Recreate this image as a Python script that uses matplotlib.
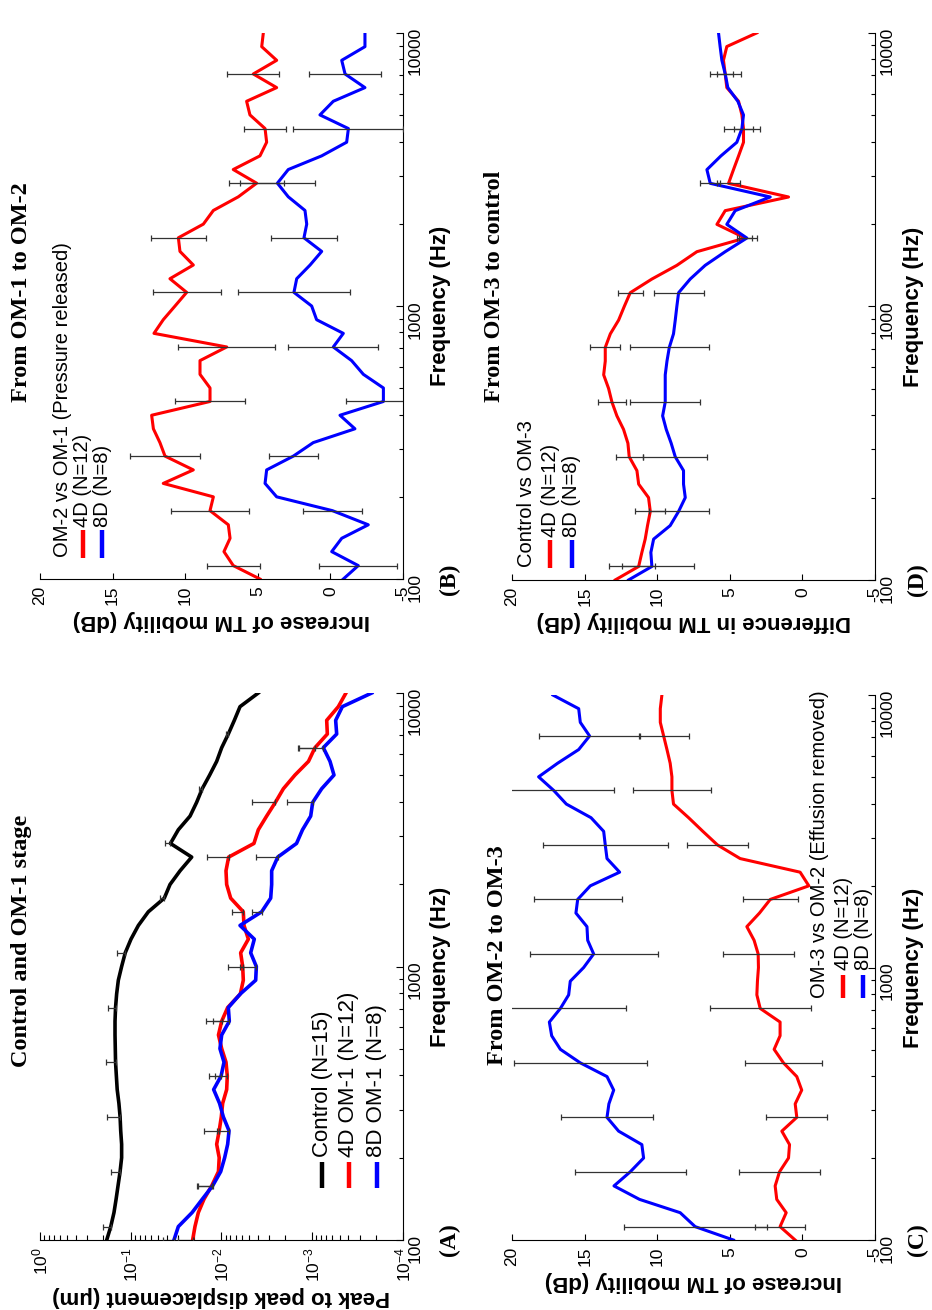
import numpy as np
import matplotlib
matplotlib.use('Agg')
import matplotlib.pyplot as plt
from matplotlib.ticker import LogLocator, NullFormatter

plt.rcParams['font.family'] = ['Liberation Sans', 'DejaVu Sans']
plt.rcParams['mathtext.fontset'] = 'custom'
plt.rcParams['mathtext.rm'] = 'Liberation Sans'
plt.rcParams['mathtext.it'] = 'Liberation Sans:italic'
plt.rcParams['mathtext.bf'] = 'Liberation Sans:bold'
plt.rcParams['axes.unicode_minus'] = False

# 1/20-decade frequency points (Hz)
FREQ = [100, 112, 126, 141, 158, 178, 200, 224, 251, 282, 316, 355, 398, 447, 501,
        562, 631, 708, 794, 891, 1000, 1122, 1259, 1413, 1585, 1778, 1995, 2239, 2512,
        2818, 3162, 3548, 3981, 4467, 5012, 5623, 6310, 7079, 7943, 8913, 10000]

# (A) peak-to-peak displacement, um
ctrl_A = [0.184, 0.166, 0.153, 0.145, 0.138, 0.131, 0.126, 0.126, 0.129, 0.131,
          0.135, 0.141, 0.144, 0.147, 0.148, 0.149, 0.149, 0.147, 0.143, 0.137,
          0.126, 0.115, 0.0994, 0.0824, 0.0640, 0.0427, 0.0369, 0.0286, 0.0213, 0.0365,
          0.0299, 0.0222, 0.0188, 0.0163, 0.0135, 0.0113, 0.00995, 0.00841, 0.00722, 0.00625,
          0.00393]
d4_A = [0.0208, 0.0196, 0.0180, 0.0156, 0.0128, 0.0108, 0.0106, 0.0113, 0.0106, 0.01005,
        0.00971, 0.00877, 0.00863, 0.00892, 0.00995, 0.0108, 0.00995, 0.00855, 0.0062, 0.00575,
        0.00584, 0.00615, 0.00506, 0.00565, 0.00575, 0.00792, 0.00877, 0.00892, 0.00834, 0.00439,
        0.00393, 0.00318, 0.00255, 0.00208, 0.00155, 0.00110, 0.000933, 0.000682, 0.000693, 0.000516,
        0.000425]
d8_A = [0.0334, 0.0299, 0.0211, 0.0163, 0.0125, 0.0102, 0.00923, 0.00855, 0.00826, 0.00954,
        0.0105, 0.0122, 0.0101, 0.00938, 0.0104, 0.00995, 0.00820, 0.00841, 0.0062, 0.00420,
        0.00413, 0.00477, 0.00435, 0.00625, 0.00361, 0.00287, 0.00280, 0.00280, 0.00240, 0.00149,
        0.00128, 0.00104, 0.000989, 0.000787, 0.000576, 0.000637, 0.000755, 0.000538, 0.000552, 0.000466,
        0.000221]
ctrl_err_idx = [1, 5, 9, 13, 17, 21, 25, 29, 33, 37]
ctrl_err = [0.034, 0.035, 0.051, 0.041, 0.031, 0.026, 0.0047, 0.0050, 0.0013, 0.0006]
om1_err_idx = [0, 4, 8, 12, 16, 20, 24, 28, 32, 36]
d4_A_err = [0.0096, 0.0059, 0.0049, 0.0031, 0.0050, 0.0027, 0.0019, 0.0062, 0.0021, 0.00047]
d8_A_err = [0.0108, 0.0058, 0.0029, 0.0036, 0.0041, 0.0022, 0.0010, 0.0018, 0.00092, 0.00067]

# (B) OM-2 vs OM-1, dB
d4_B = [4.85, 6.69, 7.33, 6.91, 7.03, 8.29, 8.06, 11.51, 9.44, 11.39, 11.74, 12.19, 12.31,
        8.29, 8.29, 8.98, 8.98, 7.14, 12.15, 11.51, 10.70, 9.90, 11.05, 9.44, 10.36, 10.47,
        8.75, 8.06, 6.34, 5.08, 6.69, 4.85, 4.39, 4.50, 5.54, 5.77, 3.70, 5.31, 3.70, 4.73, 4.62]
d8_B = [-0.89, -1.92, -0.09, -0.78, -2.61, -0.14, 3.70, 4.50, 4.39, 2.55, 1.18, -1.69, -0.66,
        -3.65, -3.65, -2.27, -1.46, -0.20, -0.89, 0.95, 1.29, 2.51, 2.32, 1.40, 0.60, 1.82,
        1.63, 1.75, 2.90, 3.65, 2.90, 0.60, -1.12, -1.24, 0.72, -0.20, -2.38, -1.01, -0.78, -2.38, -2.38]
d4_B_err = [1.81, 2.66, 2.40, 2.43, 3.33, 2.34, 1.89, 1.88, 1.42, 1.80]
d8_B_err = [2.70, 2.04, 1.69, 2.58, 3.10, 3.85, 2.30, 2.60, 3.79, 2.49]

# (C) OM-3 vs OM-2, dB
d4_C = [0.50, 1.54, 1.12, 1.77, 1.88, 1.58, 0.96, 0.89, 1.42, 0.39, 0.50, 0.05, 0.39, 1.31,
        1.95, 1.54, 1.54, 2.91, 3.14, 3.10, 3.03, 3.05, 3.33, 3.83, 2.96, 2.22, -0.44, 0.16,
        4.29, 5.85, 6.86, 7.84, 8.88, 8.99, 8.99, 9.11, 9.33, 9.56, 9.79, 9.79, 9.68]
d8_C = [4.75, 7.39, 8.42, 11.22, 12.98, 11.86, 10.94, 11.06, 12.66, 13.46, 13.33, 13.00, 13.46,
        15.30, 16.67, 17.27, 17.43, 16.67, 16.10, 15.99, 15.07, 14.38, 14.79, 14.84, 15.60, 15.48,
        14.61, 12.59, 13.46, 13.58, 13.69, 14.56, 16.26, 17.13, 18.17, 16.86, 15.41, 14.66, 15.30,
        15.41, 17.18]
d4_C_err = [1.72, 2.80, 2.11, 2.64, 3.49, 2.45, 1.90, 2.11, 2.68, 1.72]
d8_C_err = [4.93, 3.83, 3.14, 4.59, 4.52, 4.40, 3.03, 4.29, 4.17, 3.46]

# (D) control vs OM-3, dB
d4_D = [12.89, 11.28, 11.06, 10.83, 10.67, 10.48, 10.60, 11.28, 11.40, 11.93, 12.02, 12.32,
        12.78, 13.12, 13.35, 13.69, 13.58, 13.58, 13.23, 12.66, 12.27, 11.86, 10.37, 8.65, 7.27,
        3.94, 5.89, 5.32, 0.96, 5.09, 4.75, 4.40, 4.06, 4.06, 4.17, 4.40, 5.21, 5.32, 5.44, 5.21, 3.14]
d8_D = [11.97, 10.37, 10.44, 10.25, 9.11, 8.53, 8.07, 8.19, 8.19, 8.76, 9.04, 9.38, 9.63, 9.45,
        9.45, 9.45, 9.33, 9.17, 8.88, 8.76, 8.65, 8.53, 7.73, 6.70, 5.32, 3.83, 5.21, 4.63, 2.22,
        6.35, 6.58, 5.62, 4.52, 4.17, 4.06, 4.45, 5.14, 5.32, 5.55, 5.67, 5.78]
d4_D_err = [1.15, 1.03, 0.92, 0.98, 1.03, 0.85, 0.46, 0.80, 0.67, 0.57]
d8_D_err = [2.92, 2.06, 2.22, 2.41, 2.71, 1.72, 0.69, 0.69, 1.26, 1.06]

db_err_idx = [1, 5, 9, 13, 17, 21, 25, 29, 33, 37]
db_ticks = [20, 15, 10, 5, 0, -5]

RED = '#ff0000'
BLUE = '#0000ff'
EBAR = dict(fmt='none', ecolor='#333333', elinewidth=0.9, capsize=2.5, capthick=0.9, zorder=4)
SERIF = ['Liberation Serif', 'DejaVu Serif']


def pick(values, idx):
    return [values[i] for i in idx]


def freq_axis(ax):
    # frequency runs up the page, value axis runs right-to-left
    ax.set_yscale('log')
    ax.set_ylim(100, 10000)
    ax.yaxis.tick_right()
    ax.yaxis.set_label_position('right')
    ax.set_yticks([100, 1000, 10000], labels=['100', '1000', '10000'])
    ax.yaxis.set_minor_locator(LogLocator(base=10, subs=np.arange(2, 10)))
    ax.yaxis.set_minor_formatter(NullFormatter())
    ax.tick_params(axis='y', which='major', direction='in', length=5, width=0.8,
                   labelsize=12.5, labelrotation=90, pad=3)
    ax.tick_params(axis='y', which='minor', direction='in', length=3, width=0.8)
    ax.tick_params(axis='x', which='both', direction='in', width=0.8,
                   labelsize=12.5, labelrotation=90, pad=5)
    ax.set_ylabel('Frequency (Hz)', fontsize=16, fontweight='bold', labelpad=6)
    ax.spines['top'].set_visible(False)
    ax.spines['left'].set_visible(False)
    ax.patch.set_alpha(0)


def db_axis(ax, label):
    ax.set_xlim(20, -5)
    ax.set_xticks(db_ticks, labels=[str(t) for t in db_ticks])
    ax.tick_params(axis='x', which='major', length=4)
    ax.set_xlabel(label, fontsize=16, fontweight='bold', rotation=180, labelpad=3)


def legend_rows(ax, head, rows, xs, y0, y1, ytext, size):
    if head is not None:
        ax.text(head[1], head[2], head[0], rotation=90, ha='center', va='bottom',
                fontsize=size, transform=ax.transAxes)
    for (label, color), x in zip(rows, xs):
        ax.plot([x, x], [y0, y1], color=color, lw=3.2, transform=ax.transAxes,
                clip_on=False, solid_capstyle='butt')
        ax.text(x, ytext, label, rotation=90, ha='center', va='bottom',
                fontsize=size, transform=ax.transAxes)


def titles(ax, title, tx, ty, panel, px):
    ax.text(tx, ty, title, rotation=90, ha='center', va='center', fontsize=17.5,
            fontweight='bold', family=SERIF, transform=ax.transAxes)
    ax.text(px, 0.0, panel, rotation=90, ha='center', va='center', fontsize=17,
            fontweight='bold', family=SERIF, transform=ax.transAxes)


fig = plt.figure(figsize=(9.32, 13.1), dpi=100)

# ---- (B) top left
axB = fig.add_axes([0.0429, 0.5580, 0.3895, 0.4168])
freq_axis(axB)
db_axis(axB, 'Increase of TM mobility (dB)')
axB.plot(d4_B, FREQ, color=RED, lw=2.2)
axB.plot(d8_B, FREQ, color=BLUE, lw=2.2)
fe = pick(FREQ, db_err_idx)
axB.errorbar(pick(d4_B, db_err_idx), fe, xerr=d4_B_err, **EBAR)
axB.errorbar(pick(d8_B, db_err_idx), fe, xerr=d8_B_err, **EBAR)
legend_rows(axB, ('OM-2 vs OM-1 (Pressure released)', 0.061, 0.040),
            [('4D (N=12)', RED), ('8D (N=8)', BLUE)], [0.118, 0.171],
            0.038, 0.090, 0.095, 14.5)
titles(axB, 'From OM-1 to OM-2', -0.05, 0.526, '(B)', 1.127)

# ---- (A) bottom left
axA = fig.add_axes([0.0429, 0.0534, 0.3895, 0.4176])
freq_axis(axA)
axA.set_xscale('log')
axA.set_xlim(1, 1e-4)
axA.xaxis.set_major_locator(LogLocator(base=10, numticks=10))
axA.xaxis.set_minor_locator(LogLocator(base=10, subs=np.arange(2, 10), numticks=40))
axA.xaxis.set_minor_formatter(NullFormatter())
axA.tick_params(axis='x', which='major', length=6)
axA.tick_params(axis='x', which='minor', length=3.5)
axA.set_xlabel('Peak to peak displacement (\u03bcm)', fontsize=16, fontweight='bold',
               rotation=180, labelpad=3)
axA.plot(ctrl_A, FREQ, color='black', lw=2.6)
axA.plot(d4_A, FREQ, color=RED, lw=2.6)
axA.plot(d8_A, FREQ, color=BLUE, lw=2.6)
axA.errorbar(pick(ctrl_A, ctrl_err_idx), pick(FREQ, ctrl_err_idx),
             xerr=[[0] * len(ctrl_err), ctrl_err], **EBAR)
fo = pick(FREQ, om1_err_idx)
axA.errorbar(pick(d4_A, om1_err_idx), fo, xerr=[[0] * len(d4_A_err), d4_A_err], **EBAR)
axA.errorbar(pick(d8_A, om1_err_idx), fo, xerr=[[0] * len(d8_A_err), d8_A_err], **EBAR)
legend_rows(axA, None,
            [('Control (N=15)', 'black'), ('4D OM-1 (N=12)', RED), ('8D OM-1 (N=8)', BLUE)],
            [0.777, 0.850, 0.928], 0.095, 0.143, 0.152, 16)
titles(axA, 'Control and OM-1 stage', -0.05, 0.547, '(A)', 1.127)

# ---- (D) top right
axD = fig.add_axes([0.5494, 0.5573, 0.3895, 0.4176])
freq_axis(axD)
db_axis(axD, 'Difference in TM mobility (dB)')
axD.plot(d4_D, FREQ, color=RED, lw=2.2)
axD.plot(d8_D, FREQ, color=BLUE, lw=2.2)
axD.errorbar(pick(d4_D, db_err_idx), fe, xerr=d4_D_err, **EBAR)
axD.errorbar(pick(d8_D, db_err_idx), fe, xerr=d8_D_err, **EBAR)
legend_rows(axD, ('Control vs OM-3', 0.041, 0.024),
            [('4D (N=12)', RED), ('8D (N=8)', BLUE)], [0.105, 0.165],
            0.022, 0.073, 0.079, 14.5)
titles(axD, 'From OM-3 to control', -0.047, 0.536, '(D)', 1.116)

# ---- (C) bottom right
axC = fig.add_axes([0.5494, 0.0534, 0.3895, 0.4160])
freq_axis(axC)
db_axis(axC, 'Increase of TM mobility (dB)')
axC.plot(d4_C, FREQ, color=RED, lw=2.2)
axC.plot(d8_C, FREQ, color=BLUE, lw=2.2)
axC.errorbar(pick(d4_C, db_err_idx), fe, xerr=d4_C_err, **EBAR)
axC.errorbar(pick(d8_C, db_err_idx), fe, xerr=d8_C_err, **EBAR)
legend_rows(axC, ('OM-3 vs OM-2 (Effusion removed)', 0.848, 0.444),
            [('4D (N=12)', RED), ('8D (N=8)', BLUE)], [0.912, 0.967],
            0.444, 0.487, 0.495, 14.5)
titles(axC, 'From OM-2 to OM-3', -0.039, 0.523, '(C)', 1.116)

fig.savefig('out.png', dpi=100)
